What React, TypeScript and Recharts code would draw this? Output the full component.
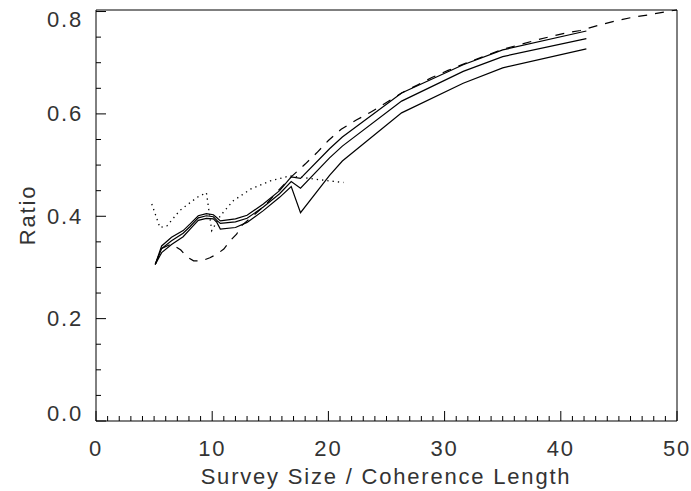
import { LineChart, Line, XAxis, YAxis } from "recharts";

// x positions (survey size / coherence length) shared by the three solid curves
const solidX = [
  5.1, 5.65, 6.5, 7.5, 8.1, 8.8, 9.5, 10.1, 10.4, 10.7, 12.0, 13.0, 14.4, 15.8,
  16.8, 17.6, 20.1, 21.2, 26.3, 31.6, 35.0, 42.2,
];
const solidTop = [
  0.306, 0.342, 0.359, 0.372, 0.385, 0.401, 0.405, 0.403, 0.397, 0.391, 0.395,
  0.402, 0.424, 0.45, 0.477, 0.474, 0.532, 0.555, 0.641, 0.696, 0.725, 0.762,
];
const solidMid = [
  0.306, 0.337, 0.352, 0.367, 0.38, 0.397, 0.401, 0.399, 0.392, 0.386, 0.389,
  0.396, 0.418, 0.444, 0.468, 0.455, 0.514, 0.537, 0.625, 0.683, 0.712, 0.747,
];
const solidLow = [
  0.306, 0.329, 0.345, 0.36, 0.375, 0.392, 0.396, 0.395, 0.388, 0.375, 0.378,
  0.388, 0.411, 0.437, 0.458, 0.407, 0.48, 0.508, 0.602, 0.66, 0.69, 0.727,
];

const dashedX = [
  5.1, 5.65, 6.5, 7.3, 7.8, 8.4, 9.1, 9.8, 10.4, 11.0, 11.5, 12.1, 12.5, 13.0,
  14.5, 15.8, 16.8, 18.0, 19.0, 20.0, 21.1, 22.4, 23.7, 25.2, 26.3, 27.7, 28.9,
  30.3, 31.9, 35.0, 38.0, 40.2, 41.7, 43.4, 44.8, 46.2, 47.7, 49.1, 50,
];
const dashedY = [
  0.306, 0.337, 0.346, 0.334, 0.321, 0.313, 0.313, 0.319, 0.326, 0.336, 0.351,
  0.365, 0.381, 0.391, 0.42, 0.453, 0.477, 0.502, 0.524, 0.548, 0.57, 0.588,
  0.604, 0.625, 0.641, 0.657, 0.671, 0.685, 0.7, 0.726, 0.745, 0.757, 0.763,
  0.774, 0.782, 0.789, 0.794, 0.8, 0.803,
];

const dottedX = [4.8, 5.5, 6.1, 7.2, 8.7, 9.5, 9.96, 10.7, 11.8, 13.3, 15.0, 16.7, 19.0, 21.3];
const dottedY = [
  0.424, 0.378, 0.381, 0.411, 0.437, 0.446, 0.372, 0.401, 0.43, 0.453, 0.469,
  0.479, 0.472, 0.466,
];

const xTicks = Array.from({ length: 51 }, (_, i) => i);
const yTicks = [
  0, 0.05, 0.1, 0.15, 0.2, 0.25, 0.3, 0.35, 0.4, 0.45, 0.5, 0.55, 0.6, 0.65,
  0.7, 0.75, 0.8,
];

const toPoints = (xs: number[], ys: number[]) =>
  xs.map((x, i) => ({ x, y: ys[i] }));

const FONT = {
  fontFamily: "'Liberation Sans', Arial, sans-serif",
  fontSize: 22,
  fill: "#333",
  letterSpacing: 1.8,
};
const MAJOR = 10;
const MINOR = 5;

const isMajorX = (v: number) => v % 10 === 0;
const isMajorY = (v: number) => Math.round(v * 100) % 20 === 0;

function BottomTick(props: any) {
  const { x, y, payload } = props;
  const v = payload.value;
  const major = isMajorX(v);
  return (
    <g>
      <line x1={x} y1={y} x2={x} y2={y - (major ? MAJOR : MINOR)} stroke="#000" />
      {major && (
        <text x={x} y={y + 35} textAnchor="middle" {...FONT}>
          {v}
        </text>
      )}
    </g>
  );
}

function TopTick(props: any) {
  const { x, y, payload } = props;
  const major = isMajorX(payload.value);
  return <line x1={x} y1={y} x2={x} y2={y + (major ? MAJOR : MINOR)} stroke="#000" />;
}

function LeftTick(props: any) {
  const { x, y, payload } = props;
  const v = payload.value;
  const major = isMajorY(v);
  // labels at the ends are pulled inside the frame
  let dy = 7.5;
  if (v >= 0.8) dy = 15;
  if (v === 0) dy = 0;
  return (
    <g>
      <line x1={x} y1={y} x2={x + (major ? MAJOR : MINOR)} y2={y} stroke="#000" />
      {major && (
        <text x={x - 13} y={y + dy} textAnchor="end" {...FONT}>
          {v.toFixed(1)}
        </text>
      )}
    </g>
  );
}

function RightTick(props: any) {
  const { x, y, payload } = props;
  const major = isMajorY(payload.value);
  return <line x1={x} y1={y} x2={x - (major ? MAJOR : MINOR)} y2={y} stroke="#000" />;
}

export default function App() {
  return (
    <div
      style={{
        position: "absolute",
        left: 0,
        top: 0,
        width: 691,
        height: 491,
        background: "#fff",
      }}
    >
      <LineChart
        width={691}
        height={491}
        margin={{ top: 0, right: 0, bottom: 0, left: 0 }}
      >
        <XAxis
          xAxisId="b"
          dataKey="x"
          type="number"
          domain={[0, 50]}
          ticks={xTicks}
          interval={0}
          height={70}
          tickSize={0}
          tickMargin={0}
          tickLine={false}
          axisLine={{ stroke: "#000" }}
          tick={<BottomTick />}
          label={{
            content: () => (
              <text x={386} y={484} textAnchor="middle" {...FONT}>
                Survey Size / Coherence Length
              </text>
            ),
          }}
        />
        <XAxis
          xAxisId="t"
          orientation="top"
          dataKey="x"
          type="number"
          domain={[0, 50]}
          ticks={xTicks}
          interval={0}
          height={10}
          tickSize={0}
          tickMargin={0}
          tickLine={false}
          axisLine={{ stroke: "#000" }}
          tick={<TopTick />}
        />
        <YAxis
          yAxisId="l"
          type="number"
          domain={[0, 0.8]}
          ticks={yTicks}
          interval={0}
          width={96}
          tickSize={0}
          tickMargin={0}
          tickLine={false}
          axisLine={{ stroke: "#000" }}
          tick={<LeftTick />}
          label={{
            content: () => (
              <text
                x={27}
                y={215}
                textAnchor="middle"
                dominantBaseline="central"
                transform="rotate(-90 27 215)"
                {...FONT}
              >
                Ratio
              </text>
            ),
          }}
        />
        <YAxis
          yAxisId="r"
          orientation="right"
          type="number"
          domain={[0, 0.8]}
          ticks={yTicks}
          interval={0}
          width={14}
          tickSize={0}
          tickMargin={0}
          tickLine={false}
          axisLine={{ stroke: "#000" }}
          tick={<RightTick />}
        />

        <Line
          xAxisId="b"
          yAxisId="l"
          data={toPoints(dottedX, dottedY)}
          dataKey="y"
          type="linear"
          stroke="#000"
          strokeWidth={1.3}
          strokeDasharray="1.3 4"
          dot={false}
          isAnimationActive={false}
        />
        <Line
          xAxisId="b"
          yAxisId="l"
          data={toPoints(dashedX, dashedY)}
          dataKey="y"
          type="linear"
          stroke="#000"
          strokeWidth={1.2}
          strokeDasharray="9 8"
          dot={false}
          isAnimationActive={false}
        />
        <Line
          xAxisId="b"
          yAxisId="l"
          data={toPoints(solidX, solidTop)}
          dataKey="y"
          type="linear"
          stroke="#000"
          strokeWidth={1.2}
          dot={false}
          isAnimationActive={false}
        />
        <Line
          xAxisId="b"
          yAxisId="l"
          data={toPoints(solidX, solidMid)}
          dataKey="y"
          type="linear"
          stroke="#000"
          strokeWidth={1.2}
          dot={false}
          isAnimationActive={false}
        />
        <Line
          xAxisId="b"
          yAxisId="l"
          data={toPoints(solidX, solidLow)}
          dataKey="y"
          type="linear"
          stroke="#000"
          strokeWidth={1.2}
          dot={false}
          isAnimationActive={false}
        />
      </LineChart>
    </div>
  );
}
